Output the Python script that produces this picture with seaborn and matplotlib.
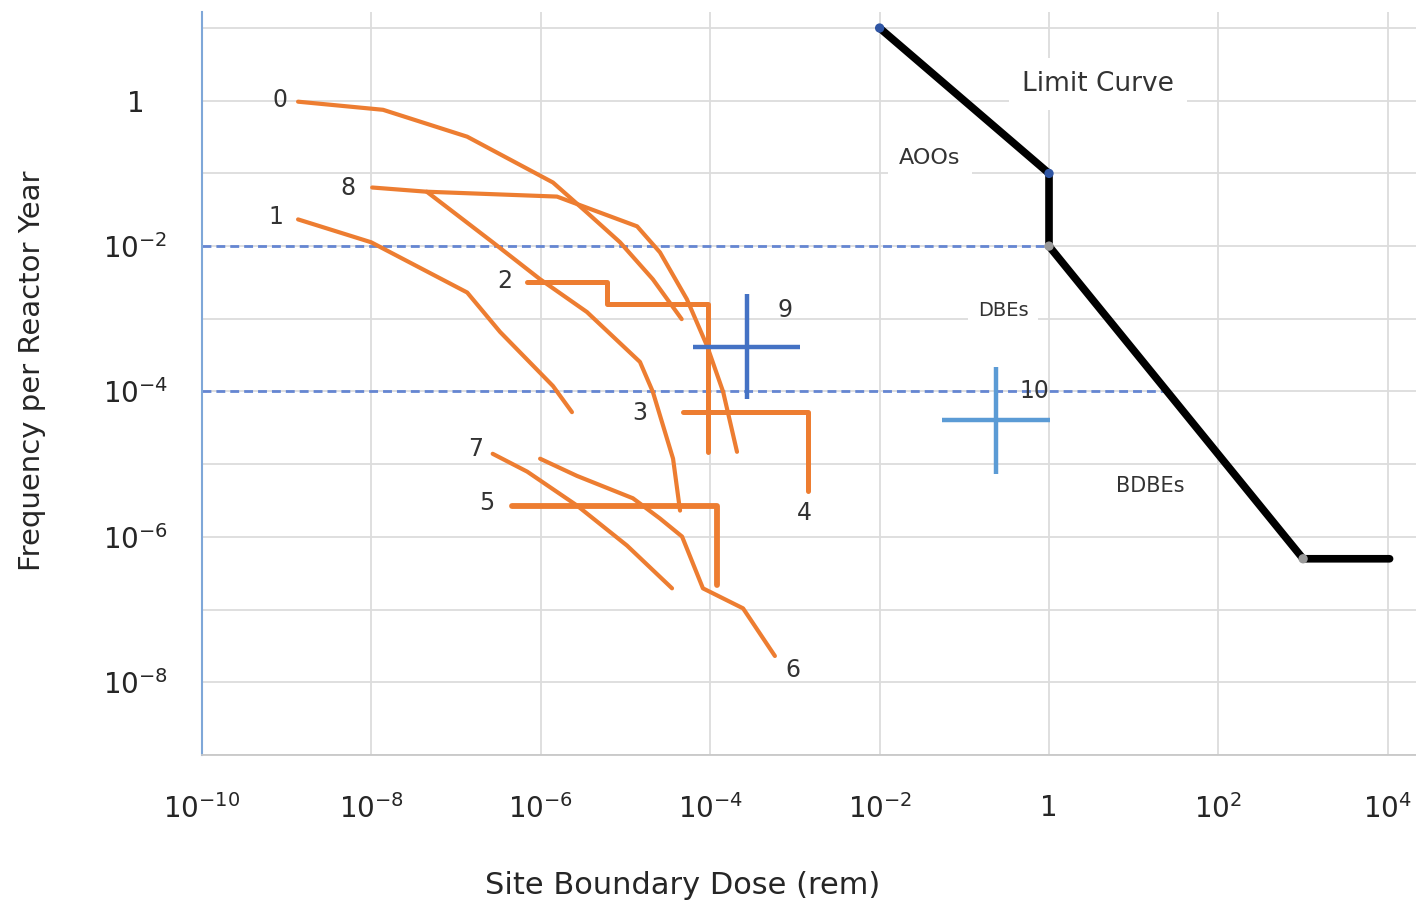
import numpy as np
import pandas as pd
import matplotlib
matplotlib.use("Agg")
import matplotlib.pyplot as plt
import seaborn as sns
from matplotlib.ticker import FixedLocator, FixedFormatter, NullFormatter

# ---------------- data ----------------
curve0_x = [1.36e-9, 1.37e-8, 1.35e-7, 1.39e-6, 3.5e-6, 8.6e-6, 2.1e-5, 4.6e-5]
curve0_y = [0.97, 0.75, 0.32, 0.075, 0.029, 0.0113, 0.0035, 0.00099]

curve1_x = [1.36e-9, 9.9e-9, 1.35e-7, 3.3e-7, 1.39e-6, 2.33e-6]
curve1_y = [0.0233, 0.0113, 0.0023, 6.6e-4, 1.19e-4, 5.2e-5]

curve8_x = [1.02e-8, 4.5e-8, 1.55e-6, 1.37e-5, 2.55e-5, 5.3e-5, 9.2e-5, 1.42e-4, 2.07e-4]
curve8_y = [0.064, 0.056, 0.048, 0.0187, 0.0082, 0.00186, 4.2e-4, 9.9e-5, 1.48e-5]

curve8b_x = [4.5e-8, 2.7e-7, 9.8e-7, 3.5e-6, 1.48e-5, 2.1e-5, 3.64e-5, 4.4e-5]
curve8b_y = [0.056, 0.0113, 0.0035, 0.00124, 2.55e-4, 9.9e-5, 1.19e-5, 2.3e-6]

step2_x = [6.9e-7, 6.0e-6, 6.0e-6, 9.5e-5, 9.5e-5]
step2_y = [3.2e-3, 3.2e-3, 1.6e-3, 1.6e-3, 1.48e-5]

step34_x = [4.8e-5, 1.43e-3, 1.43e-3]
step34_y = [5.2e-5, 5.2e-5, 4.3e-6]

step5_x = [4.6e-7, 1.2e-4, 1.2e-4]
step5_y = [2.7e-6, 2.7e-6, 2.15e-7]

curve6_x = [9.8e-7, 2.67e-6, 1.22e-5, 2.55e-5, 4.65e-5, 8.2e-5, 2.44e-4, 5.8e-4]
curve6_y = [1.19e-5, 6.9e-6, 3.4e-6, 1.79e-6, 1.01e-6, 1.96e-7, 1.04e-7, 2.3e-8]

curve7_x = [2.7e-7, 6.9e-7, 2.67e-6, 1.04e-5, 3.54e-5]
curve7_y = [1.39e-5, 7.9e-6, 2.7e-6, 7.6e-7, 1.96e-7]

limit_x = [1e-2, 1.0, 1.0, 1e3, 1.05e4]
limit_y = [10.0, 0.1, 1e-2, 5.0e-7, 5.0e-7]
limit_marker_colors = ["#2F55A4", "#2F55A4", "#9a9a9a", "#9a9a9a"]

level_y = [1e-2, 1e-4]
level_x_end = [1.0, 24.0]

cross_names = ["9", "10"]
cross_x = [2.7e-4, 0.237]
cross_y = [4.1e-4, 4.1e-5]
cross_x_lo = [6.3e-5, 0.0546]
cross_x_hi = [1.15e-3, 1.03]
cross_y_lo = [7.9e-5, 7.4e-6]
cross_y_hi = [2.18e-3, 2.17e-4]
cross_colors = ["#4472C4", "#5B9BD5"]

event_labels = ["0", "8", "1", "2", "9", "3", "7", "5", "4", "6", "10"]
event_label_x = [8.3e-10, 5.3e-9, 7.5e-10, 3.7e-7, 7.6e-4, 1.48e-5, 1.72e-7, 2.3e-7, 1.28e-3, 9.5e-4, 0.68]
event_label_y = [1.03, 0.064, 0.0248, 3.3e-3, 1.32e-3, 5.1e-5, 1.63e-5, 2.96e-6, 2.1e-6, 1.47e-8, 1.02e-4]

region_labels = ["Limit Curve", "AOOs", "DBEs", "BDBEs"]
region_x = [3.8, 0.039, 0.286, 15.6]
region_y = [1.71, 0.165, 1.32e-3, 5.07e-6]
region_sizes = [19, 16, 14, 15]

x_ticks = [1e-10, 1e-8, 1e-6, 1e-4, 1e-2, 1, 1e2, 1e4]
x_tick_labels = [r"$10^{-10}$", r"$10^{-8}$", r"$10^{-6}$", r"$10^{-4}$", r"$10^{-2}$", "1", r"$10^{2}$", r"$10^{4}$"]
y_ticks = [1e-8, 1e-6, 1e-4, 1e-2, 1]
y_tick_labels = [r"$10^{-8}$", r"$10^{-6}$", r"$10^{-4}$", r"$10^{-2}$", "1"]
y_minor_grid = [1e-9, 1e-7, 1e-5, 1e-3, 1e-1, 1e1]

# ---------------- style ----------------
sns.set_theme(style="white")
plt.rcParams["font.family"] = ["DejaVu Sans"]
plt.rcParams["mathtext.fontset"] = "dejavusans"
ORANGE = "#ED7D31"
TXT = "#262626"

fig = plt.figure(figsize=(14.16, 9.06), dpi=100)
ax = fig.add_axes([0.1427, 0.1667, 0.8573, 0.8201])
ax.set_xscale("log")
ax.set_yscale("log")
ax.set_xlim(1e-10, 10 ** 4.333)
ax.set_ylim(1e-9, 10 ** 1.221)

# grid
ax.xaxis.set_major_locator(FixedLocator(x_ticks))
ax.xaxis.set_major_formatter(FixedFormatter(x_tick_labels))
ax.xaxis.set_minor_locator(FixedLocator([]))
ax.yaxis.set_major_locator(FixedLocator(y_ticks))
ax.yaxis.set_major_formatter(FixedFormatter(y_tick_labels))
ax.yaxis.set_minor_locator(FixedLocator(y_minor_grid))
ax.yaxis.set_minor_formatter(NullFormatter())
ax.grid(True, which="major", axis="both", color="#dcdcdc", lw=1.3, zorder=0)
ax.grid(True, which="minor", axis="y", color="#dcdcdc", lw=1.3, zorder=0)
ax.set_axisbelow(True)

for s in ["top", "right"]:
    ax.spines[s].set_visible(False)
ax.spines["left"].set_color("#7FA7D8")
ax.spines["left"].set_linewidth(1.5)
ax.spines["bottom"].set_color("#c8c8c8")
ax.spines["bottom"].set_linewidth(1.3)

ax.tick_params(axis="both", which="both", length=0)
ax.tick_params(axis="x", labelsize=20, pad=28, labelcolor=TXT)
ax.tick_params(axis="y", labelsize=20, pad=48, labelcolor=TXT)
for lab in ax.get_yticklabels():
    lab.set_horizontalalignment("center")

# dashed frequency levels
for yv, xe in zip(level_y, level_x_end):
    ax.plot([1e-10, xe], [yv, yv], ls=(0, (3.2, 1.8)), color="#6586D2", lw=2.0, zorder=2)

# orange event curves
curves = [
    (curve0_x, curve0_y, 3.0), (curve1_x, curve1_y, 3.0), (curve8_x, curve8_y, 3.0),
    (curve8b_x, curve8b_y, 3.0), (step2_x, step2_y, 3.6), (step34_x, step34_y, 3.6),
    (step5_x, step5_y, 4.2), (curve6_x, curve6_y, 3.0), (curve7_x, curve7_y, 3.0),
]
for cx, cy, lw in curves:
    df = pd.DataFrame({"dose": cx, "freq": cy})
    sns.lineplot(data=df, x="dose", y="freq", sort=False, estimator=None,
                 color=ORANGE, lw=lw, ax=ax, zorder=3)

# blue crosses
for i in range(len(cross_x)):
    ax.errorbar([cross_x[i]], [cross_y[i]],
                xerr=[[cross_x[i] - cross_x_lo[i]], [cross_x_hi[i] - cross_x[i]]],
                yerr=[[cross_y[i] - cross_y_lo[i]], [cross_y_hi[i] - cross_y[i]]],
                fmt="none", ecolor=cross_colors[i], elinewidth=3.2, capsize=0, zorder=4)

# limit curve
ldf = pd.DataFrame({"dose": limit_x, "freq": limit_y})
sns.lineplot(data=ldf, x="dose", y="freq", sort=False, estimator=None,
             color="black", lw=5.5, ax=ax, zorder=5)
ax.scatter(limit_x[:4], limit_y[:4], s=45, c=limit_marker_colors, zorder=6, linewidths=0)

# labels
for t, xv, yv in zip(event_labels, event_label_x, event_label_y):
    ax.text(xv, yv, t, fontsize=17, color="#333333", ha="center", va="center", zorder=7)

for t, xv, yv, fs in zip(region_labels, region_x, region_y, region_sizes):
    ax.text(xv, yv, t, fontsize=fs, color="#333333", ha="center", va="center", zorder=7,
            bbox=dict(boxstyle="square,pad=0.5", fc="white", ec="none"))

ax.set_xlabel("Site Boundary Dose (rem)", fontsize=22, color=TXT)
ax.set_ylabel("Frequency per Reactor Year", fontsize=21, color=TXT)
ax.xaxis.set_label_coords(0.396, -0.176)
ax.xaxis.label.set_va("center")
ax.yaxis.set_label_coords(-0.140, 0.517)
ax.yaxis.label.set_va("center")

fig.savefig("out.png", dpi=100)
